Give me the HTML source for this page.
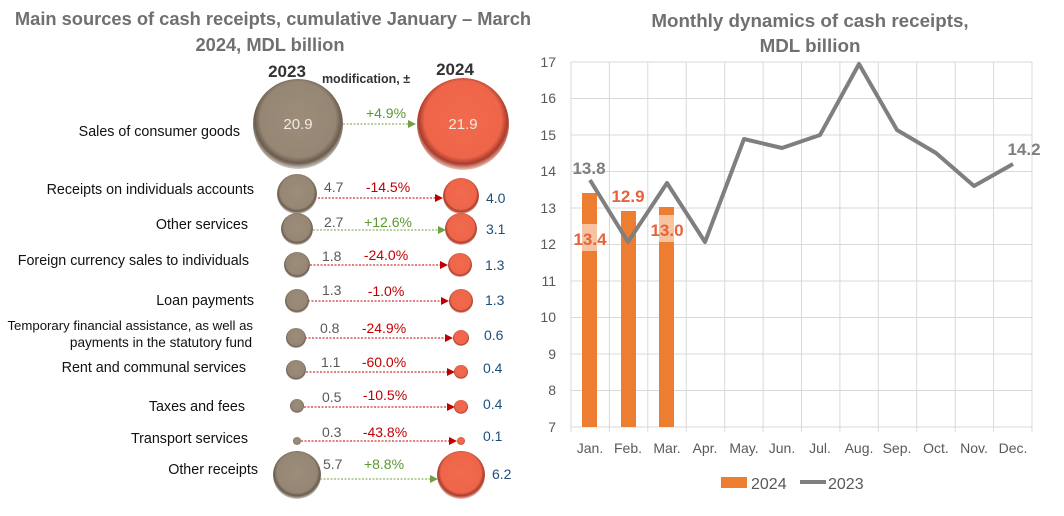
<!DOCTYPE html>
<html><head><meta charset="utf-8"><style>
body{margin:0;background:#fff}
svg{display:block;font-family:"Liberation Sans",sans-serif}
</style></head><body>
<svg width="1064" height="516" viewBox="0 0 1064 516" xmlns="http://www.w3.org/2000/svg">
<defs>
<radialGradient id="g1" cx="50%" cy="45%" r="55%"><stop offset="0" stop-color="#9c8c7a"/><stop offset="0.76" stop-color="#968674"/><stop offset="0.88" stop-color="#6a5c4e"/><stop offset="1" stop-color="#d8d2cc"/></radialGradient>
<radialGradient id="g2" cx="50%" cy="45%" r="55%"><stop offset="0" stop-color="#f26a4e"/><stop offset="0.76" stop-color="#ee654a"/><stop offset="0.88" stop-color="#a83c2c"/><stop offset="1" stop-color="#f2c8c0"/></radialGradient>
<marker id="ar" markerWidth="8" markerHeight="8" refX="7" refY="4" orient="auto"><path d="M0,0 L8,4 L0,8 Z" fill="#c00000"/></marker>
<marker id="ag" markerWidth="8" markerHeight="8" refX="7" refY="4" orient="auto"><path d="M0,0 L8,4 L0,8 Z" fill="#70a040"/></marker>
</defs>
<g fill="#707070" font-weight="bold" font-size="18.3" text-anchor="middle">
<text x="273" y="25">Main sources of cash receipts, cumulative January – March</text>
<text x="270" y="51">2024,  MDL billion</text>
<text x="810" y="27" font-size="18.8">Monthly dynamics of cash receipts,</text>
<text x="810" y="52" font-size="18.8">MDL billion</text>
</g>
<g font-weight="bold" fill="#333" text-anchor="middle">
<text x="287" y="77" font-size="17">2023</text>
<text x="366" y="83" font-size="12.5">modification, ±</text>
<text x="455" y="75" font-size="17">2024</text>
</g>
<g font-size="14.3" fill="#111" text-anchor="end">
<text x="240" y="136">Sales of consumer goods</text>
<text x="254" y="194">Receipts on individuals accounts</text>
<text x="248" y="229">Other services</text>
<text x="249" y="265">Foreign currency sales to individuals</text>
<text x="254" y="305">Loan payments</text>
<text x="253" y="330" font-size="13.2">Temporary financial assistance, as well as</text>
<text x="252" y="347" font-size="13.6">payments in the statutory fund</text>
<text x="246" y="372">Rent and communal services</text>
<text x="245" y="411">Taxes and fees</text>
<text x="248" y="443">Transport services</text>
<text x="258" y="474">Other receipts</text>
</g>
<g stroke-width="1" stroke-dasharray="2,1.5" fill="none">
<line x1="343" y1="124" x2="415" y2="124" stroke="#70a040" marker-end="url(#ag)"/>
<line x1="318" y1="198" x2="442" y2="198" stroke="#c00000" marker-end="url(#ar)"/>
<line x1="313" y1="230" x2="445" y2="230" stroke="#70a040" marker-end="url(#ag)"/>
<line x1="310" y1="265" x2="447" y2="265" stroke="#c00000" marker-end="url(#ar)"/>
<line x1="308" y1="301" x2="448" y2="301" stroke="#c00000" marker-end="url(#ar)"/>
<line x1="305" y1="338" x2="452" y2="338" stroke="#c00000" marker-end="url(#ar)"/>
<line x1="306" y1="372" x2="454" y2="372" stroke="#c00000" marker-end="url(#ar)"/>
<line x1="304" y1="407" x2="454" y2="407" stroke="#c00000" marker-end="url(#ar)"/>
<line x1="301" y1="441" x2="456" y2="441" stroke="#c00000" marker-end="url(#ar)"/>
<line x1="320" y1="479" x2="437" y2="479" stroke="#70a040" marker-end="url(#ag)"/>
</g>
<g fill="url(#g1)">
<circle cx="298" cy="124" r="45"/><circle cx="297" cy="194" r="20"/><circle cx="297" cy="229" r="16"/><circle cx="297" cy="265" r="13"/><circle cx="297" cy="301" r="12"/><circle cx="296" cy="338" r="10"/><circle cx="296" cy="370" r="10"/><circle cx="297" cy="406" r="7"/><circle cx="297" cy="441" r="4"/><circle cx="297" cy="475" r="24"/>
</g>
<g fill="url(#g2)">
<circle cx="463" cy="124" r="46"/><circle cx="461" cy="196" r="18"/><circle cx="461" cy="229" r="16"/><circle cx="460" cy="265" r="12"/><circle cx="461" cy="301" r="12"/><circle cx="461" cy="338" r="8"/><circle cx="461" cy="372" r="7"/><circle cx="461" cy="407" r="7"/><circle cx="461" cy="441" r="4"/><circle cx="461" cy="475" r="24"/>
</g>
<g font-size="15" fill="#f0ebe6" text-anchor="middle"><text x="298" y="129">20.9</text><text x="463" y="129">21.9</text></g>
<g font-size="14" fill="#595959">
<text x="324" y="192">4.7</text><text x="324" y="227">2.7</text><text x="322" y="261">1.8</text><text x="322" y="295">1.3</text><text x="320" y="333">0.8</text><text x="321" y="367">1.1</text><text x="322" y="402">0.5</text><text x="322" y="437">0.3</text><text x="323" y="469">5.7</text>
</g>
<g font-size="14" text-anchor="middle" fill="#c00000">
<text x="386" y="118" fill="#5a9a30">+4.9%</text>
<text x="388" y="192">-14.5%</text>
<text x="388" y="227" fill="#5a9a30">+12.6%</text>
<text x="386" y="260">-24.0%</text>
<text x="386" y="296">-1.0%</text>
<text x="384" y="333">-24.9%</text>
<text x="384" y="367">-60.0%</text>
<text x="385" y="400">-10.5%</text>
<text x="385" y="437">-43.8%</text>
<text x="384" y="469" fill="#5a9a30">+8.8%</text>
</g>
<g font-size="14" fill="#1f4e79">
<text x="486" y="203">4.0</text><text x="486" y="234">3.1</text><text x="485" y="270">1.3</text><text x="485" y="305">1.3</text><text x="484" y="340">0.6</text><text x="483" y="373">0.4</text><text x="483" y="409">0.4</text><text x="483" y="441">0.1</text><text x="492" y="479">6.2</text>
</g>
<!-- right chart -->
<g stroke="#d9d9d9" stroke-width="1">
<line x1="571" y1="62" x2="1032" y2="62"/><line x1="571" y1="98.5" x2="1032" y2="98.5"/><line x1="571" y1="135" x2="1032" y2="135"/><line x1="571" y1="171.5" x2="1032" y2="171.5"/><line x1="571" y1="208" x2="1032" y2="208"/><line x1="571" y1="244.5" x2="1032" y2="244.5"/><line x1="571" y1="281" x2="1032" y2="281"/><line x1="571" y1="317.5" x2="1032" y2="317.5"/><line x1="571" y1="354" x2="1032" y2="354"/><line x1="571" y1="390.5" x2="1032" y2="390.5"/><line x1="571" y1="427" x2="1032" y2="427"/>
<line x1="571" y1="62" x2="571" y2="432"/><line x1="609.4" y1="62" x2="609.4" y2="432"/><line x1="647.8" y1="62" x2="647.8" y2="432"/><line x1="686.2" y1="62" x2="686.2" y2="432"/><line x1="724.7" y1="62" x2="724.7" y2="432"/><line x1="763.1" y1="62" x2="763.1" y2="432"/><line x1="801.5" y1="62" x2="801.5" y2="432"/><line x1="839.9" y1="62" x2="839.9" y2="432"/><line x1="878.3" y1="62" x2="878.3" y2="432"/><line x1="916.7" y1="62" x2="916.7" y2="432"/><line x1="955.2" y1="62" x2="955.2" y2="432"/><line x1="993.6" y1="62" x2="993.6" y2="432"/><line x1="1032" y1="62" x2="1032" y2="432"/>
</g>
<g font-size="14" fill="#595959" text-anchor="end">
<text x="556" y="67">17</text><text x="556" y="103">16</text><text x="556" y="140">15</text><text x="556" y="176">14</text><text x="556" y="213">13</text><text x="556" y="249">12</text><text x="556" y="286">11</text><text x="556" y="322">10</text><text x="556" y="359">9</text><text x="556" y="395">8</text><text x="556" y="432">7</text>
</g>
<g font-size="14" fill="#595959" text-anchor="middle">
<text x="590" y="453">Jan.</text><text x="628" y="453">Feb.</text><text x="667" y="453">Mar.</text><text x="705" y="453">Apr.</text><text x="744" y="453">May.</text><text x="782" y="453">Jun.</text><text x="820" y="453">Jul.</text><text x="859" y="453">Aug.</text><text x="897" y="453">Sep.</text><text x="936" y="453">Oct.</text><text x="974" y="453">Nov.</text><text x="1013" y="453">Dec.</text>
</g>
<g fill="#ed7d31">
<rect x="582" y="193" width="15" height="234"/><rect x="621" y="211" width="15" height="216"/><rect x="659" y="207" width="15" height="220"/>
</g>
<rect x="573" y="224" width="34" height="27" fill="#fff" opacity="0.55"/>
<rect x="650" y="215" width="34" height="27" fill="#fff" opacity="0.55"/>
<polyline fill="none" stroke="#7f7f7f" stroke-width="4" stroke-linejoin="round" points="590,180 628,242 667,183 705,242 744,139 782,148 820,135 859,64 897,130 936,153 974,186 1013,164"/>
<g font-size="17" font-weight="bold" text-anchor="middle">
<text x="589" y="174" fill="#7f7f7f">13.8</text>
<text x="1024" y="155" fill="#7f7f7f">14.2</text>
<text x="590" y="245" fill="#e8603c">13.4</text>
<text x="628" y="202" fill="#e8603c">12.9</text>
<text x="667" y="236" fill="#e8603c">13.0</text>
</g>
<rect x="721" y="477" width="26" height="11" fill="#ed7d31"/>
<text x="751" y="489" font-size="16" fill="#595959">2024</text>
<line x1="800" y1="482" x2="826" y2="482" stroke="#7f7f7f" stroke-width="4"/>
<text x="828" y="489" font-size="16" fill="#595959">2023</text>
</svg>
</body></html>
